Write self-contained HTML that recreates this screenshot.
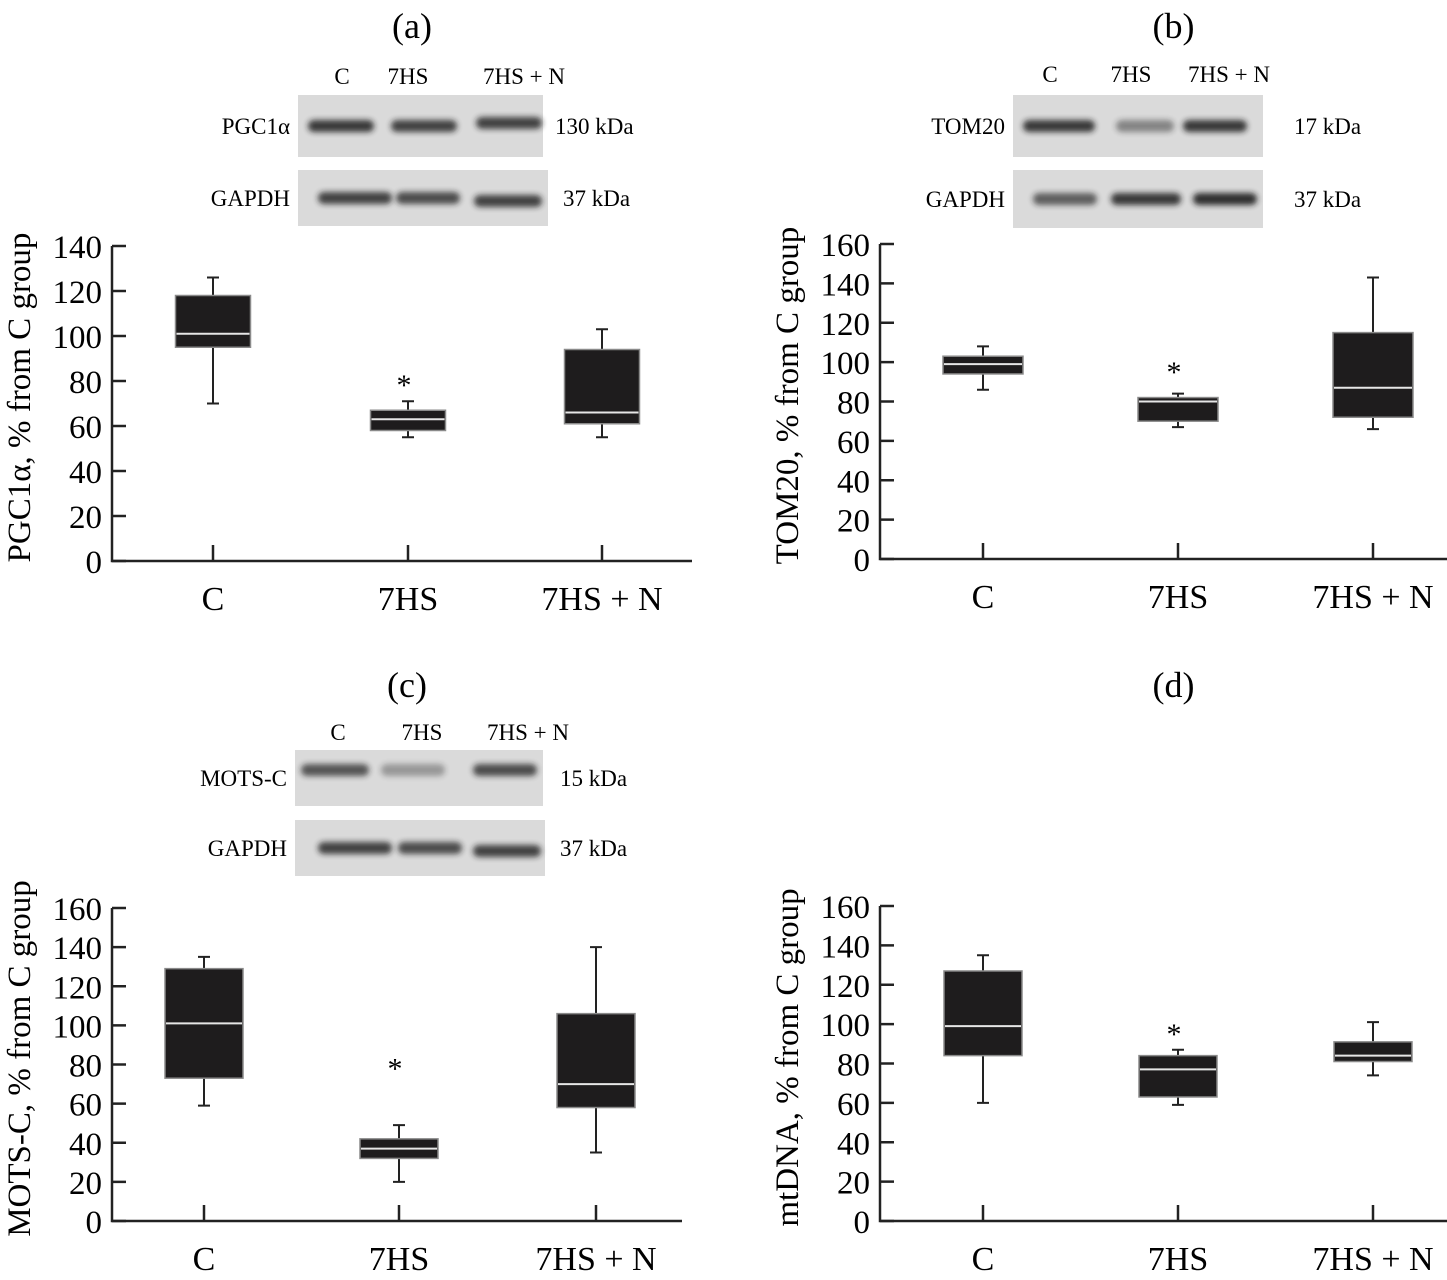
<!DOCTYPE html>
<html><head><meta charset="utf-8"><style>
html,body{margin:0;padding:0;background:#fff;}
svg{display:block;font-family:"Liberation Serif",serif;}
</style></head><body>
<svg id="fig" width="1447" height="1280" viewBox="0 0 1447 1280" xmlns="http://www.w3.org/2000/svg">
<defs><filter id="bl" x="-20%" y="-100%" width="140%" height="300%"><feGaussianBlur stdDeviation="3"/></filter></defs>
</svg>
<script>
const categories = ["C", "7HS", "7HS + N"];
// panel a: PGC1a
const aLow = [70, 55, 55];
const aQ1 = [95, 58, 61];
const aMed = [101, 63, 66];
const aQ3 = [118, 67, 94];
const aHigh = [126, 71, 103];
const aStar = [null, 80, null];
// panel b: TOM20
const bLow = [86, 67, 66];
const bQ1 = [94, 70, 72];
const bMed = [99, 80, 87];
const bQ3 = [103, 82, 115];
const bHigh = [108, 84, 143];
const bStar = [null, 97, null];
// panel c: MOTS-C
const cLow = [59, 20, 35];
const cQ1 = [73, 32, 58];
const cMed = [101, 37, 70];
const cQ3 = [129, 42, 106];
const cHigh = [135, 49, 140];
const cStar = [null, 80, null];
// panel d: mtDNA
const dLow = [60, 59, 74];
const dQ1 = [84, 63, 81];
const dMed = [99, 77, 84];
const dQ3 = [127, 84, 91];
const dHigh = [135, 87, 101];
const dStar = [null, 97, null];
const aTicks = [0,20,40,60,80,100,120,140];
const bTicks = [0,20,40,60,80,100,120,140,160];

const NS = "http://www.w3.org/2000/svg";
const svg = document.getElementById("fig");
function mk(tag, attrs, parent, text){
  const e = document.createElementNS(NS, tag);
  for (const k in attrs) e.setAttribute(k, attrs[k]);
  if (text !== undefined) e.textContent = text;
  (parent || svg).appendChild(e);
  return e;
}

function panel(id, geo, ticks, low, q1, med, q3, high, star, ytitle, title, titleY){
  const g = mk("g", {});
  
  
  const ymax = ticks[ticks.length-1];
  const yS = v => geo.y0 - (v / ymax) * (geo.y0 - geo.yTop);
  const xS = i => geo.cx[i];
  const t = mk("text", {x: (geo.x0+geo.x1)/2 + 10, y: titleY, "font-size": 36, "text-anchor": "middle"}, g, title);
  
  
  const ax = mk("path", {d: `M${geo.x0},${geo.yTop} V${geo.y0} H${geo.x1}`, stroke: "#222", "stroke-width": 2.5, fill: "none"}, g);
  
  
  ticks.forEach(v => {
    const y = yS(v);
    const tk = mk("line", {x1: geo.x0, x2: geo.x0 + 14, y1: y, y2: y, stroke: "#222", "stroke-width": 2.5}, g);
    
    
    const tl = mk("text", {x: geo.x0 - 10, y: y + 12, "font-size": 33, "text-anchor": "end"}, g, String(v));
    
    
  });
  const yt = mk("text", {transform: `translate(${geo.x0 - 82},${(geo.y0 + geo.yTop)/2 - 6}) rotate(-90)`, "font-size": 33, "text-anchor": "middle"}, g, ytitle);
  
  
  categories.forEach((c, i) => {
    const x = xS(i);
    const tk = mk("line", {x1: x, x2: x, y1: geo.y0, y2: geo.y0 - 16, stroke: "#222", "stroke-width": 2.5}, g);
    
    
    const cl = mk("text", {x: x, y: geo.y0 + 49, "font-size": 34, "text-anchor": "middle"}, g, c);
    
    
    const w = geo.bw;
    const wh = mk("path", {d: `M${x},${yS(low[i])} V${yS(high[i])} M${x-6},${yS(low[i])} H${x+6} M${x-6},${yS(high[i])} H${x+6}`, stroke: "#222", "stroke-width": 2, fill: "none"}, g);
    
    
    const bx = mk("rect", {x: x - w/2, y: yS(q3[i]), width: w, height: yS(q1[i]) - yS(q3[i]), fill: "#1e1c1d", stroke: "#8a8a8a", "stroke-width": 1.5}, g);
    
    
    const md = mk("line", {x1: x - w/2 + 1, x2: x + w/2 - 1, y1: yS(med[i]), y2: yS(med[i]), stroke: "#e6e6e6", "stroke-width": 2}, g);
    
    
    if (star[i] !== null){
      const s = mk("text", {x: x - 4, y: yS(star[i]) + 14, "font-size": 30, "text-anchor": "middle"}, g, "*");
      
      
    }
  });
}

panel("a", {x0:112, x1:692, y0:561, yTop:246, cx:[213,408,602], bw:75}, aTicks, aLow, aQ1, aMed, aQ3, aHigh, aStar, "PGC1α, % from C group", "(a)", 38);
panel("b", {x0:880, x1:1447, y0:559, yTop:244, cx:[983,1178,1373], bw:80}, bTicks, bLow, bQ1, bMed, bQ3, bHigh, bStar, "TOM20, % from C group", "(b)", 38);
panel("c", {x0:112, x1:682, y0:1221, yTop:908, cx:[204,399,596], bw:78}, bTicks, cLow, cQ1, cMed, cQ3, cHigh, cStar, "MOTS-C, % from C group", "(c)", 697);
panel("d", {x0:880, x1:1447, y0:1221, yTop:906, cx:[983,1178,1373], bw:78}, bTicks, dLow, dQ1, dMed, dQ3, dHigh, dStar, "mtDNA, % from C group", "(d)", 697);

function blot(name, x, y, w, h, label, kda, bands, kx){
  const g = mk("g", {});
  
  
  mk("rect", {x, y, width: w, height: h, fill: "#dadada"}, g);
  bands.forEach(b => {
    mk("rect", {x: x + b[0], y: y + h/2 - 6 + (b[3]||0), width: b[1], height: 12, rx: 6, fill: "#1a1a1a", opacity: b[2], filter: "url(#bl)"}, g);
  });
  const l = mk("text", {x: x - 8, y: y + h/2 + 8, "font-size": 23, "text-anchor": "end"}, g, label);
  
  
  const k = mk("text", {x: kx, y: y + h/2 + 8, "font-size": 23}, g, kda);
  
  
}
function lanes(xs, y){
  ["C","7HS","7HS + N"].forEach((c,i)=>{
    const t = mk("text", {x: xs[i], y, "font-size": 23, "text-anchor": "middle"}, undefined, c);
    
    
  });
}
lanes([342,408,524], 84);
blot("pgc1a", 298, 95, 245, 62, "PGC1α", "130 kDa", [[10,66,0.85],[93,66,0.8],[178,66,0.8,-3]], 555);
blot("gapdh-a", 298, 170, 250, 56, "GAPDH", "37 kDa", [[20,74,0.8],[98,64,0.75],[176,68,0.8,3]], 563);
lanes([1050,1131,1229], 82);
blot("tom20", 1013, 95, 250, 62, "TOM20", "17 kDa", [[10,72,0.85],[103,58,0.45],[170,64,0.85]], 1294);
blot("gapdh-b", 1013, 170, 250, 58, "GAPDH", "37 kDa", [[20,64,0.65],[98,70,0.85],[180,64,0.9]], 1294);
lanes([338,422,528], 740);
blot("motsc", 295, 750, 248, 56, "MOTS-C", "15 kDa", [[6,68,0.7,-8],[86,64,0.35,-8],[178,64,0.75,-8]], 560);
blot("gapdh-c", 295, 820, 250, 56, "GAPDH", "37 kDa", [[23,74,0.8],[103,64,0.75],[178,68,0.8,3]], 560);
</script>
</body></html>
